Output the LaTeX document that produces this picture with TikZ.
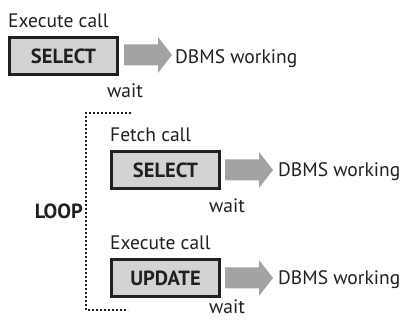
\documentclass[tikz,border=0pt]{standalone}
\usepackage{fontspec}
\setmainfont{PT Sans}
\definecolor{boxfill}{HTML}{D3D3D3}
\definecolor{arrfill}{HTML}{A3A3A3}
\definecolor{ink}{HTML}{231F20}
\tikzset{
  callbox/.style={draw=ink, line width=2.6pt, fill=boxfill, minimum width=108pt, minimum height=37pt, inner sep=0pt, font=\fontsize{20.5}{22}\selectfont\bfseries, text=ink},
  lbl/.style={font=\fontsize{19.5}{22}\selectfont, text=ink, inner sep=0pt, anchor=base west},
  waitlbl/.style={font=\fontsize{19.5}{22}\selectfont, text=ink, inner sep=0pt, anchor=base},
  bigarrow/.pic={\fill[arrfill] (0,-10.5) -- (34,-10.5) -- (34,-18) -- (48,0) -- (34,18) -- (34,10.5) -- (0,10.5) -- cycle;},
  looppath/.style={draw=ink, line width=2pt, dotted}
}
\begin{document}
\begin{tikzpicture}[x=1pt,y=-1pt]
\useasboundingbox (0,0) rectangle (408,320);
% first block
\node[lbl] (ex1) at (8,28) {Execute call};
\node[callbox] (b1) at (63.5,56) {SELECT};
\pic at (124,55) {bigarrow};
\node[lbl] (d1) at (175,64) {DBMS working};
\node[waitlbl] (w1) at (125,98) {wait};
% loop
\coordinate (lt) at (131,113);
\coordinate (lc1) at (86,113);
\coordinate (lc2) at (86,310);
\coordinate (lb) at (128,310);
\draw[looppath] (lt) -- (lc1) -- (lc2) -- (lb);
\node[lbl, font=\fontsize{20.5}{22}\selectfont\bfseries, anchor=base east] (loop) at (83,219) {LOOP};
% second block
\node[lbl] (f2) at (110,142) {Fetch call};
\node[callbox] (b2) at (165.5,170) {SELECT};
\pic at (225,170) {bigarrow};
\node[lbl] (d2) at (278,177) {DBMS working};
\node[waitlbl] (w2) at (227,213) {wait};
% third block
\node[lbl] (ex3) at (110,250) {Execute call};
\node[callbox] (b3) at (165.5,278) {UPDATE};
\pic at (225,278) {bigarrow};
\node[lbl] (d3) at (278,285) {DBMS working};
\node[waitlbl] (w3) at (227,314) {wait};
\end{tikzpicture}
\end{document}
